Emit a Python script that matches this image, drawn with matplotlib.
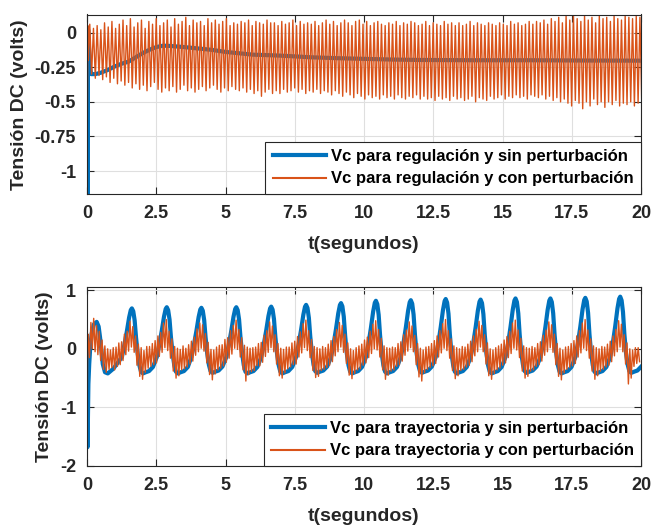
import numpy as np
import matplotlib
matplotlib.use("Agg")
import matplotlib.pyplot as plt

plt.rcParams['font.family'] = ['Liberation Sans', 'DejaVu Sans']
plt.rcParams['font.weight'] = 'bold'
plt.rcParams['axes.unicode_minus'] = False

# colores tipo MATLAB
azul = '#0072BD'
naranja = '#D95319'
gris = '#262626'

# ---------------- datos grafica 1 (regulacion) ----------------
t_reg_sin = [0, 0.008, 0.016, 0.025, 0.04, 0.07, 0.1, 0.15, 0.3, 0.5, 0.75, 1.0, 1.25, 1.5,
             1.75, 2.0, 2.25, 2.5, 2.75, 3.0, 3.5, 4.0, 4.5, 5.0, 5.5, 6.0, 6.5, 7.0, 7.5,
             8.0, 9.0, 10.0, 11.0, 12.0, 14.0, 16.0, 18.0, 20.0]
v_reg_sin = [0.02, -0.6, -1.3, -0.6, 0.02, -0.1, -0.24, -0.3, -0.3, -0.29, -0.27, -0.245, -0.225, -0.21,
             -0.18, -0.15, -0.125, -0.105, -0.095, -0.097, -0.105, -0.115, -0.125, -0.14, -0.15, -0.16,
             -0.163, -0.167, -0.172, -0.178, -0.185, -0.19, -0.195, -0.198, -0.2, -0.2, -0.202, -0.203]

# transitorio inicial de la senal con perturbacion
t_reg_con_ini = [0, 0.01, 0.03, 0.05]
v_reg_con_ini = [0.02, -0.7, 0.05, -0.2]
# picos (maximos) y valles (minimos) de la oscilacion, un par por ciclo
periodo_reg = 0.1333
t0_reg = 0.1
maximos_reg = [0.06, 0.03, 0.05, 0.02, 0.07, 0.04, 0.08, 0.03, 0.06, 0.09,
               0.05, 0.10, 0.04, 0.07, 0.09, 0.03, 0.08, 0.06, 0.10, 0.05,
               0.07, 0.09, 0.04, 0.10, 0.06, 0.08, 0.11, 0.05, 0.09, 0.07,
               0.08, 0.05, 0.10, 0.07, 0.09, 0.06, 0.08, 0.10, 0.05, 0.07,
               0.06, 0.08, 0.07, 0.09, 0.05, 0.08, 0.07, 0.06, 0.09, 0.07,
               0.07, 0.05, 0.08, 0.06, 0.07, 0.09, 0.05, 0.08, 0.06, 0.07,
               0.06, 0.08, 0.05, 0.07, 0.09, 0.06, 0.08, 0.05, 0.07, 0.09,
               0.07, 0.05, 0.08, 0.09, 0.06, 0.08, 0.05, 0.07, 0.08, 0.06,
               0.05, 0.07, 0.06, 0.08, 0.05, 0.07, 0.06, 0.08, 0.07, 0.05,
               0.06, 0.08, 0.05, 0.07, 0.06, 0.05, 0.08, 0.06, 0.07, 0.05,
               0.07, 0.05, 0.06, 0.08, 0.05, 0.07, 0.06, 0.05, 0.07, 0.06,
               0.05, 0.07, 0.06, 0.05, 0.08, 0.06, 0.07, 0.05, 0.06, 0.08,
               0.06, 0.08, 0.07, 0.09, 0.06, 0.10, 0.08, 0.11, 0.07, 0.12,
               0.09, 0.12, 0.10, 0.08, 0.12, 0.09, 0.11, 0.07, 0.12, 0.10,
               0.11, 0.08, 0.12, 0.10, 0.09, 0.12, 0.11, 0.10, 0.12, 0.11]
minimos_reg = [-0.30, -0.33, -0.31, -0.34, -0.32, -0.36, -0.33, -0.37, -0.35, -0.38,
               -0.36, -0.40, -0.37, -0.41, -0.38, -0.42, -0.39, -0.36, -0.41, -0.43,
               -0.40, -0.42, -0.39, -0.43, -0.41, -0.38, -0.42, -0.40, -0.43, -0.41,
               -0.39, -0.42, -0.40, -0.38, -0.41, -0.43, -0.40, -0.42, -0.39, -0.41,
               -0.42, -0.40, -0.43, -0.41, -0.44, -0.42, -0.46, -0.43, -0.41, -0.44,
               -0.42, -0.44, -0.41, -0.43, -0.42, -0.40, -0.43, -0.41, -0.44, -0.42,
               -0.43, -0.41, -0.44, -0.42, -0.43, -0.45, -0.42, -0.44, -0.46, -0.43,
               -0.45, -0.47, -0.44, -0.46, -0.48, -0.45, -0.47, -0.46, -0.48, -0.45,
               -0.47, -0.46, -0.48, -0.45, -0.47, -0.48, -0.46, -0.47, -0.45, -0.48,
               -0.46, -0.48, -0.47, -0.49, -0.46, -0.48, -0.47, -0.49, -0.46, -0.48,
               -0.47, -0.49, -0.48, -0.46, -0.50, -0.47, -0.48, -0.49, -0.46, -0.48,
               -0.47, -0.45, -0.48, -0.46, -0.47, -0.45, -0.47, -0.46, -0.48, -0.45,
               -0.46, -0.47, -0.45, -0.48, -0.46, -0.49, -0.47, -0.50, -0.48, -0.51,
               -0.53, -0.49, -0.51, -0.55, -0.50, -0.53, -0.48, -0.52, -0.50, -0.54,
               -0.50, -0.52, -0.49, -0.53, -0.51, -0.52, -0.50, -0.53, -0.51, -0.52]

# ---------------- datos grafica 2 (trayectoria) ----------------
t_tray_ini = [0, 0.008, 0.016, 0.03, 0.05, 0.08, 0.12, 0.17, 0.25, 0.35, 0.42, 0.47,
              0.52, 0.57, 0.65, 0.75, 0.95]
v_tray_ini = [0.05, -0.9, -1.68, -1.3, -0.6, -0.26, 0.05, 0.26, 0.42, 0.46, 0.38, 0.2,
              -0.02, -0.26, -0.4, -0.42, -0.34]
# instantes y valores de cada pico, y valor del valle que le sigue
picos_t = [1.62, 2.88, 4.13, 5.39, 6.65, 7.91, 9.17, 10.43, 11.69, 12.95, 14.21, 15.47,
           16.73, 17.99, 19.25]
picos_v = [0.69, 0.71, 0.70, 0.71, 0.72, 0.75, 0.78, 0.82, 0.83, 0.85, 0.84, 0.86,
           0.86, 0.87, 0.89]
valles_v = [-0.42, -0.42, -0.41, -0.42, -0.42, -0.41, -0.42, -0.42, -0.41, -0.42, -0.42,
            -0.41, -0.42, -0.42, -0.41]
forma_dt = [-0.36, -0.27, -0.18, -0.10, -0.04, 0.0, 0.05, 0.10, 0.15, 0.21, 0.27, 0.33,
            0.40, 0.50, 0.62, 0.76]
forma_v = [-0.14, 0.07, 0.31, 0.55, 0.68, 0.71, 0.66, 0.50, 0.20, -0.08, -0.28, -0.39,
           -0.42, -0.40, -0.38, -0.31]

# senal con perturbacion: transitorio y valores alternos max/min cada 0.0504 s
t_tray_con_ini = [0, 0.01, 0.025]
v_tray_con_ini = [0.1, -0.8, 0.2]
dt_tray = 0.0504
t0_tray = 0.04
tray_con_inicio = [0.25, -0.15, 0.45, 0.0, 0.52, -0.05, 0.40, -0.10, 0.30, -0.20,
                   0.15, -0.35, 0.05, -0.40, 0.0, -0.35, -0.02, -0.32, 0.02]
tray_con_ciclos = [
    [-0.36, 0.03, -0.30, 0.10, -0.27, 0.12, -0.20, 0.25, -0.10, 0.30, -0.04, 0.47, 0.03, 0.38, -0.06, 0.22, -0.28, 0.08, -0.47, 0.02, -0.52, -0.03, -0.40, 0.04, -0.33],
    [0.04, -0.30, 0.09, -0.27, 0.14, -0.24, 0.22, -0.13, 0.28, -0.06, 0.44, 0.02, 0.50, -0.03, 0.30, -0.16, 0.17, -0.38, 0.04, -0.50, 0.01, -0.46, -0.01, -0.36, 0.05],
    [-0.34, 0.01, -0.31, 0.07, -0.26, 0.13, -0.21, 0.20, -0.11, 0.34, -0.05, 0.44, 0.01, 0.41, -0.04, 0.26, -0.24, 0.11, -0.44, -0.01, -0.53, -0.02, -0.43, 0.03, -0.36],
    [0.06, -0.33, 0.07, -0.29, 0.16, -0.23, 0.19, -0.16, 0.31, -0.09, 0.40, 0.01, 0.49, -0.01, 0.33, -0.14, 0.19, -0.36, 0.06, -0.55, 0.03, -0.44, 0.01, -0.39, 0.02],
    [-0.37, 0.03, -0.29, 0.09, -0.29, 0.11, -0.23, 0.23, -0.13, 0.31, -0.06, 0.46, 0.02, 0.39, -0.05, 0.24, -0.26, 0.09, -0.46, 0.01, -0.50, -0.01, -0.41, 0.03, -0.34],
    [0.03, -0.31, 0.10, -0.27, 0.13, -0.26, 0.21, -0.14, 0.29, -0.07, 0.43, 0.02, 0.49, -0.03, 0.31, -0.15, 0.16, -0.37, 0.04, -0.49, 0.02, -0.47, 0.00, -0.37, 0.04],
    [-0.35, 0.02, -0.32, 0.08, -0.28, 0.14, -0.22, 0.21, -0.12, 0.33, -0.05, 0.45, 0.03, 0.40, -0.06, 0.25, -0.25, 0.10, -0.45, 0.00, -0.51, -0.03, -0.42, 0.02, -0.36],
    [0.05, -0.34, 0.08, -0.28, 0.15, -0.24, 0.20, -0.15, 0.30, -0.08, 0.42, 0.00, 0.48, -0.02, 0.33, -0.14, 0.18, -0.36, 0.05, -0.52, 0.02, -0.45, 0.01, -0.38, 0.03],
    [-0.36, 0.02, -0.30, 0.09, -0.27, 0.12, -0.21, 0.24, -0.11, 0.32, -0.04, 0.46, 0.02, 0.39, -0.05, 0.23, -0.27, 0.09, -0.48, 0.01, -0.55, -0.02, -0.41, 0.03, -0.35],
    [0.04, -0.32, 0.09, -0.29, 0.14, -0.25, 0.22, -0.14, 0.31, -0.07, 0.43, 0.01, 0.50, -0.03, 0.31, -0.16, 0.17, -0.37, 0.05, -0.51, 0.02, -0.46, 0.00, -0.37, 0.04],
    [-0.35, 0.03, -0.31, 0.08, -0.28, 0.13, -0.22, 0.22, -0.12, 0.33, -0.05, 0.47, 0.03, 0.40, -0.05, 0.24, -0.26, 0.10, -0.46, 0.00, -0.52, -0.02, -0.42, 0.02, -0.36],
    [0.05, -0.33, 0.08, -0.28, 0.15, -0.24, 0.21, -0.15, 0.30, -0.08, 0.44, 0.01, 0.49, -0.02, 0.32, -0.15, 0.18, -0.38, 0.05, -0.50, 0.02, -0.47, 0.01, -0.38, 0.04],
    [-0.36, 0.02, -0.30, 0.09, -0.27, 0.12, -0.21, 0.23, -0.11, 0.32, -0.05, 0.46, 0.02, 0.41, -0.06, 0.25, -0.27, 0.09, -0.47, 0.01, -0.53, -0.02, -0.41, 0.03, -0.35],
    [0.04, -0.32, 0.09, -0.29, 0.14, -0.25, 0.22, -0.14, 0.31, -0.07, 0.44, 0.01, 0.50, -0.03, 0.32, -0.16, 0.17, -0.38, 0.05, -0.52, 0.02, -0.46, 0.00, -0.38, 0.04],
    [-0.35, 0.03, -0.31, 0.08, -0.28, 0.13, -0.22, 0.22, -0.12, 0.33, -0.05, 0.48, 0.03, 0.42, -0.05, 0.24, -0.26, 0.10, -0.60, 0.00, -0.50, -0.02, -0.30, 0.02, -0.25],
]
tray_con_final = [0.02, -0.22]

x_ticks = [0, 2.5, 5, 7.5, 10, 12.5, 15, 17.5, 20]
x_labels = ['0', '2.5', '5', '7.5', '10', '12.5', '15', '17.5', '20']
y_ticks_1 = [-1, -0.75, -0.5, -0.25, 0]
y_labels_1 = ['-1', '-0.75', '-0.5', '-0.25', '0']
y_ticks_2 = [-2, -1, 0, 1]
y_labels_2 = ['-2', '-1', '0', '1']

# ---- armar series ----
n_reg = len(maximos_reg)
t_max = t0_reg + periodo_reg * np.arange(n_reg)
t_min = t_max + periodo_reg / 2
t_osc = np.column_stack([t_max, t_min]).ravel()
v_osc = np.column_stack([maximos_reg, minimos_reg]).ravel()
t_reg_con = np.concatenate([t_reg_con_ini, t_osc])
v_reg_con = np.concatenate([v_reg_con_ini, v_osc])

forma_dt = np.array(forma_dt)
forma_v = np.array(forma_v)
t_b, v_b = [np.array(t_tray_ini)], [np.array(v_tray_ini)]
for tp, pv, vv in zip(picos_t, picos_v, valles_v):
    vals = np.where(forma_v > 0, forma_v * pv / 0.71, forma_v * vv / -0.42)
    t_b.append(tp + forma_dt)
    v_b.append(vals)
t_tray_sin = np.concatenate(t_b)
v_tray_sin = np.concatenate(v_b)

serie = tray_con_inicio + sum(tray_con_ciclos, []) + tray_con_final
t_serie = t0_tray + dt_tray * np.arange(len(serie))
t_tray_con = np.concatenate([t_tray_con_ini, t_serie])
v_tray_con = np.concatenate([v_tray_con_ini, serie])

# ---------------- figura ----------------
fig = plt.figure(figsize=(6.52, 5.29), dpi=100)
W, H = 652, 529
ax1 = fig.add_axes([87 / W, 1 - 194 / H, 554 / W, 179.5 / H])
ax2 = fig.add_axes([87 / W, 1 - 466 / H, 554 / W, 178.7 / H])

ax1.plot(t_reg_sin, v_reg_sin, color=azul, lw=3,
         label='Vc para regulación y sin perturbación')
ax1.plot(t_reg_con, v_reg_con, color=naranja, lw=1.0,
         label='Vc para regulación y con perturbación')
ax1.set_ylim(-1.165, 0.13)
ax1.set_yticks(y_ticks_1)
ax1.set_yticklabels(y_labels_1)

ax2.plot(t_tray_sin, v_tray_sin, color=azul, lw=3,
         label='Vc para trayectoria y sin perturbación')
ax2.plot(t_tray_con, v_tray_con, color=naranja, lw=1.0,
         label='Vc para trayectoria y con perturbación')
ax2.set_ylim(-2, 1.05)
ax2.set_yticks(y_ticks_2)
ax2.set_yticklabels(y_labels_2)

for ax in (ax1, ax2):
    ax.set_xlim(0, 20)
    ax.set_xticks(x_ticks)
    ax.set_xticklabels(x_labels)
    ax.grid(True, color='#dfdfdf', lw=0.8)
    ax.set_axisbelow(True)
    ax.tick_params(direction='in', top=True, right=True, length=5, width=0.8,
                   colors=gris, labelsize=13, pad=8)
    for lab in ax.get_xticklabels() + ax.get_yticklabels():
        lab.set_fontweight('bold')
    for s in ax.spines.values():
        s.set_color(gris)
        s.set_linewidth(0.8)
    ax.set_xlabel('t(segundos)', fontsize=14, fontweight='bold', color=gris, labelpad=10)
    ax.set_ylabel('Tensión DC (volts)', fontsize=14, fontweight='bold', color=gris, labelpad=5)
    leg = ax.legend(loc='lower right', bbox_to_anchor=(1, 0), borderaxespad=0,
                    fancybox=False, edgecolor=gris, framealpha=1,
                    prop={'size': 12, 'weight': 'bold'}, handlelength=3.2,
                    handletextpad=0.3, borderpad=0.45, labelspacing=0.45)
    leg.get_frame().set_linewidth(0.8)
    leg.get_lines()[1].set_linewidth(1.5)

fig.savefig('out.png', dpi=100)
